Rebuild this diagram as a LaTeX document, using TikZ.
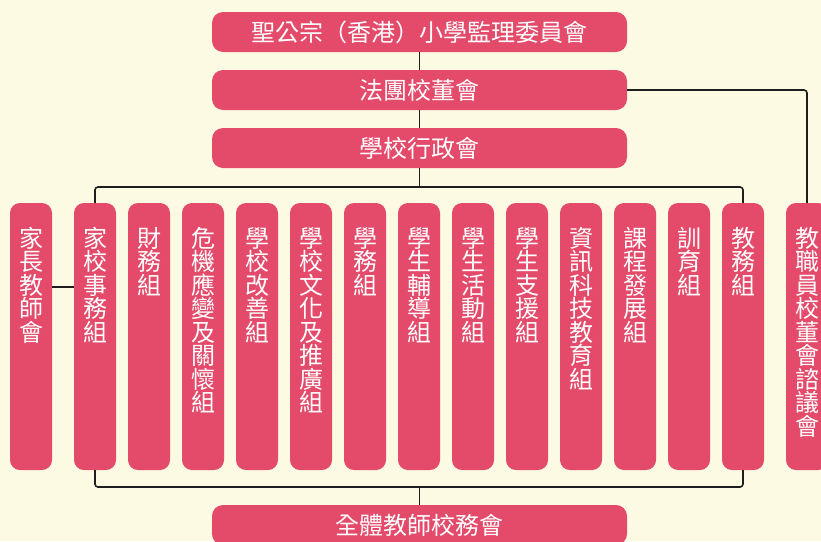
\documentclass[tikz,border=0pt]{standalone}
\usepackage{fontspec}
\newfontfamily\cjk{Noto Sans CJK TC}
\definecolor{boxred}{RGB}{228,74,106}
\definecolor{paper}{RGB}{253,250,227}
\definecolor{linecol}{RGB}{30,30,30}
\newcommand{\vlabel}[1]{\parbox[c][267pt][t]{30pt}{\centering\rule{0pt}{44pt}#1}}
\tikzset{
    barbox/.style={fill=boxred, rounded corners=11pt, minimum width=415pt, minimum height=40pt, inner sep=0pt, text=white, font=\cjk\fontsize{24}{24}\selectfont},
    colbox/.style={fill=boxred, rounded corners=10pt, minimum width=42pt, inner sep=0pt, text=white, font=\cjk\fontsize{24}{23.5}\selectfont},
    link/.style={draw=linecol, line width=1.6pt, rounded corners=3pt}
}
\begin{document}
\begin{tikzpicture}[x=1pt, y=-1pt]
                \useasboundingbox (0,0) rectangle (821,541);
                \fill[paper] (0,0) rectangle (821,541);

                % top of the chart
                \node [barbox] (svc) at (419.5,32) {聖公宗（香港）小學監理委員會};
                \node [barbox] (sbd) at (419.5,90) {法團校董會};
                \node [barbox] (adm) at (419.5,148) {學校行政會};

                % the groups
                \node [colbox] (ptas) at (31,336.5) {\vlabel{家\\長\\教\\師\\會}};
                \node [colbox] (hsc) at (95,336.5) {\vlabel{家\\校\\事\\務\\組}};
                \node [colbox] (fin) at (149,336.5) {\vlabel{財\\務\\組}};
                \node [colbox] (crisis) at (203,336.5) {\vlabel{危\\機\\應\\變\\及\\關\\懷\\組}};
                \node [colbox] (impr) at (257,336.5) {\vlabel{學\\校\\改\\善\\組}};
                \node [colbox] (cult) at (311,336.5) {\vlabel{學\\校\\文\\化\\及\\推\\廣\\組}};
                \node [colbox] (acad) at (365,336.5) {\vlabel{學\\務\\組}};
                \node [colbox] (guid) at (419,336.5) {\vlabel{學\\生\\輔\\導\\組}};
                \node [colbox] (act) at (473,336.5) {\vlabel{學\\生\\活\\動\\組}};
                \node [colbox] (supp) at (527,336.5) {\vlabel{學\\生\\支\\援\\組}};
                \node [colbox] (ict) at (581,336.5) {\vlabel{資\\訊\\科\\技\\教\\育\\組}};
                \node [colbox] (curr) at (635,336.5) {\vlabel{課\\程\\發\\展\\組}};
                \node [colbox] (disc) at (689,336.5) {\vlabel{訓\\育\\組}};
                \node [colbox] (teach) at (743,336.5) {\vlabel{教\\務\\組}};
                \node [colbox] (staff) at (807,336.5) {\vlabel{教\\職\\員\\校\\董\\會\\諮\\議\\會}};

                % bottom of the chart
                \node [barbox] (conf) at (419.5,525) {全體教師校務會};

                \coordinate (topbus) at (419.5,187);
                \coordinate (lowbus) at (419.5,487);

                \draw[link] (svc) -- (sbd);
                \draw[link] (sbd) -- (adm);
                \draw[link] (adm) -- (topbus);
                \draw[link] (hsc.north) -- (hsc.north |- topbus) -- (teach.north |- topbus) -- (teach.north);
                \draw[link] (hsc.south) -- (hsc.south |- lowbus) -- (teach.south |- lowbus) -- (teach.south);
                \draw[link] (lowbus) -- (conf);
                \draw[link] ([yshift=49.5pt]ptas.east) -- ([yshift=49.5pt]hsc.west);
                \draw[link] (sbd.east) -- (staff.north |- sbd.east) -- (staff.north);
            \end{tikzpicture}
\end{document}
